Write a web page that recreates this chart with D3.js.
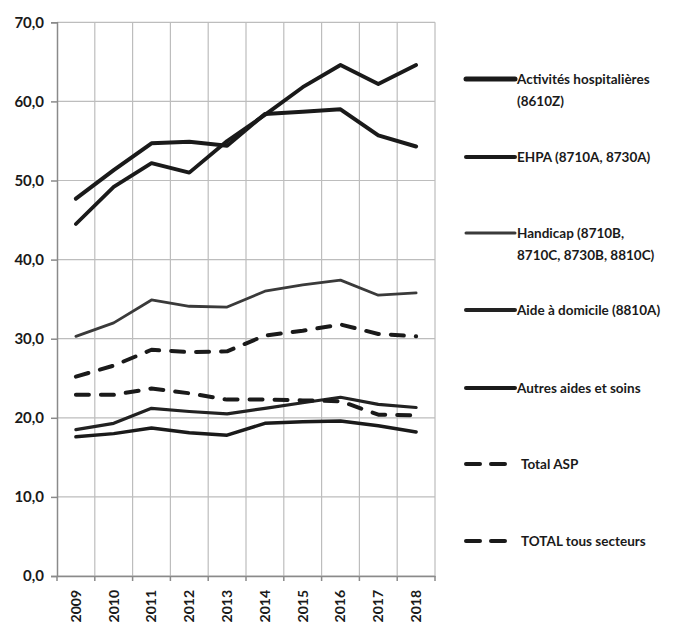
<!DOCTYPE html>
<html><head><meta charset="utf-8">
<script src="https://cdn.jsdelivr.net/npm/d3@7"></script>
<style>body{margin:0;background:#fff}svg{display:block}text{font-family:Lato,"Open Sans",sans-serif;fill:#1a1a1a}</style>
</head><body>
<svg id="c" width="688" height="625"></svg>
<script>
const years = ["2009","2010","2011","2012","2013","2014","2015","2016","2017","2018"];
const yTicks = [0,10,20,30,40,50,60,70];
const hospitalieres = [47.7,51.3,54.7,54.9,54.4,58.4,58.7,59.0,55.7,54.3];
const ehpa = [44.5,49.2,52.2,51.0,55.0,58.3,61.8,64.6,62.2,64.6];
const handicap = [30.3,32.0,34.9,34.1,34.0,36.0,36.8,37.4,35.5,35.8];
const aideDomicile = [18.5,19.3,21.2,20.8,20.5,21.2,21.9,22.6,21.7,21.3];
const autresAides = [17.6,18.0,18.7,18.1,17.8,19.3,19.5,19.6,19.0,18.2];
const totalASP = [25.2,26.6,28.6,28.3,28.4,30.4,31.0,31.8,30.6,30.3];
const totalTous = [22.9,22.9,23.7,23.1,22.3,22.3,22.2,22.1,20.4,20.3];

const series = [
  {name:["Activités hospitalières","(8610Z)"], values:hospitalieres, w:4, lw:5, dash:null, color:"#1a1a1a"},
  {name:["EHPA (8710A, 8730A)"], values:ehpa, w:3.8, lw:4, dash:null, color:"#1a1a1a"},
  {name:["Handicap (8710B,","8710C, 8730B, 8810C)"], values:handicap, w:2.8, lw:3, dash:null, color:"#3a3a3a"},
  {name:["Aide à domicile (8810A)"], values:aideDomicile, w:3.2, lw:4, dash:null, color:"#222"},
  {name:["Autres aides et soins"], values:autresAides, w:3.5, lw:4, dash:null, color:"#1a1a1a"},
  {name:["Total ASP"], values:totalASP, w:4, lw:4, dash:"13,12", color:"#1a1a1a"},
  {name:["TOTAL tous secteurs"], values:totalTous, w:4, lw:4, dash:"13,12", color:"#1a1a1a"}
];

const svg = d3.select("#c");
const L=57, R=435, T=22.3, B=576;
const x = d3.scaleBand().domain(years).range([L,R]).padding(0);
const y = d3.scaleLinear().domain([0,70]).range([B,T]);

// grid
const g = svg.append("g");
g.selectAll(".hg").data(yTicks).join("line")
  .attr("x1",L).attr("x2",R).attr("y1",d=>y(d)).attr("y2",d=>y(d))
  .attr("stroke","#bdbdbd").attr("stroke-width",1.2);
const vb = years.map(d=>x(d)).concat([R]);
g.selectAll(".vg").data(vb.slice(1)).join("line")
  .attr("x1",d=>d).attr("x2",d=>d).attr("y1",T).attr("y2",B)
  .attr("stroke","#bdbdbd").attr("stroke-width",1.2);

// y axis
const ya = svg.append("g").attr("transform",`translate(${L},0)`)
  .call(d3.axisLeft(y).tickValues(yTicks).tickSize(6).tickPadding(7).tickFormat(d=>d3.format(".1f")(d).replace(".",",")));
ya.select(".domain").attr("stroke","#8a8a8a").attr("stroke-width",1.5);
ya.selectAll(".tick line").attr("stroke","#8a8a8a").attr("stroke-width",1.5);
ya.selectAll("text").attr("font-size",15).attr("font-weight","bold").attr("fill","#1a1a1a").style("font-family","Lato,sans-serif");

// x axis
const xa = svg.append("g").attr("transform",`translate(0,${B})`)
  .call(d3.axisBottom(x).tickSize(0).tickPadding(0));
xa.select(".domain").attr("stroke","#8a8a8a").attr("stroke-width",1.5);
xa.selectAll(".tick text").attr("font-size",14).attr("font-weight","bold").attr("fill","#1a1a1a")
  .style("font-family","Lato,sans-serif")
  .attr("transform","rotate(-90)").attr("text-anchor","end").attr("dy","0.35em").attr("x",-14).attr("y",0);
svg.append("g").selectAll("line").data(vb).join("line")
  .attr("x1",d=>d).attr("x2",d=>d).attr("y1",B).attr("y2",B+5)
  .attr("stroke","#8a8a8a").attr("stroke-width",1.5);

// lines
const line = d3.line().x((d,i)=>x(years[i])+x.bandwidth()/2).y(d=>y(d)).curve(d3.curveLinear);
series.forEach(s=>{
  svg.append("path").attr("d",line(s.values)).attr("fill","none")
    .attr("stroke",s.color).attr("stroke-width",s.w).attr("stroke-linejoin","round")
    .attr("stroke-linecap","round").attr("stroke-dasharray",s.dash);
});

// legend
const legY = [79,157,233,310,388,464,541];
series.forEach((s,i)=>{
  const yy = legY[i];
  svg.append("line").attr("x1",466).attr("x2",s.dash?513:515).attr("y1",yy).attr("y2",yy)
    .attr("stroke",s.color).attr("stroke-width",s.lw).attr("stroke-linecap","round")
    .attr("stroke-dasharray",s.dash?"14,11":null);
  s.name.forEach((t,j)=>{
    svg.append("text").attr("x",s.dash?521:517).attr("y",yy+j*22).attr("dy","0.35em")
      .attr("font-size",13.5).attr("font-weight","bold").text(t);
  });
});
</script>
</body></html>
